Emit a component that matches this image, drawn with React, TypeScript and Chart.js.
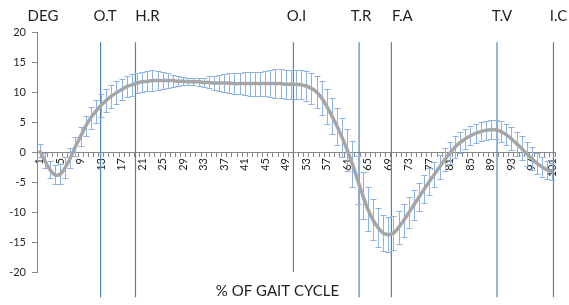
import React, { useEffect, useRef } from "react";
import { Chart, registerables } from "chart.js";

Chart.register(...registerables);

// ---- data ----
const categories: number[] = Array.from({ length: 101 }, (_, i) => i + 1);

const meanAngle: number[] = [
  0.3, -1.4, -2.9, -3.8, -3.7, -2.6, -1.0, 0.9, 2.6, 4.3,
  5.7, 6.8, 7.8, 8.6, 9.3, 9.9, 10.4, 10.9, 11.2, 11.5,
  11.7, 11.8, 11.9, 11.9, 11.9, 11.9, 11.9, 11.8, 11.8, 11.7,
  11.7, 11.7, 11.6, 11.6, 11.5, 11.5, 11.5, 11.5, 11.4, 11.4,
  11.4, 11.4, 11.4, 11.4, 11.4, 11.4, 11.4, 11.4, 11.3, 11.3,
  11.3, 11.2, 11.0, 10.6, 10.0, 9.0, 7.6, 6.0, 4.3, 2.4,
  0.3, -2.0, -4.6, -7.2, -9.5, -11.3, -12.6, -13.5, -13.8, -13.5,
  -12.6, -11.4, -10.1, -8.8, -7.5, -6.2, -4.9, -3.7, -2.5, -1.3,
  -0.2, 0.8, 1.6, 2.2, 2.7, 3.1, 3.4, 3.6, 3.7, 3.7,
  3.4, 2.9, 2.2, 1.4, 0.6, -0.3, -1.1, -1.9, -2.5, -3.0,
  -3.3,
];

const sdAngle: number[] = [
  1.1, 1.2, 1.4, 1.6, 1.7, 1.7, 1.6, 1.6, 1.6, 1.7,
  1.8, 1.9, 1.9, 1.9, 1.9, 1.9, 1.8, 1.8, 1.8, 1.7,
  1.7, 1.7, 1.7, 1.6, 1.4, 1.2, 1.0, 0.8, 0.7, 0.6,
  0.6, 0.7, 0.8, 1.0, 1.2, 1.4, 1.5, 1.6, 1.7, 1.8,
  1.9, 2.0, 2.0, 2.0, 2.1, 2.3, 2.4, 2.4, 2.4, 2.4,
  2.4, 2.4, 2.5, 2.6, 2.7, 2.8, 2.9, 3.0, 3.1, 3.3,
  3.5, 3.8, 4.0, 3.9, 3.7, 3.4, 3.2, 3.0, 2.9, 2.8,
  2.8, 2.7, 2.6, 2.5, 2.4, 2.3, 2.2, 2.1, 2.0, 1.9,
  1.8, 1.8, 1.7, 1.7, 1.6, 1.6, 1.6, 1.6, 1.6, 1.6,
  1.7, 1.8, 1.9, 2.0, 2.0, 2.0, 1.9, 1.8, 1.6, 1.5,
  1.4,
];

const xTickLabels: number[] = [
  1, 5, 9, 13, 17, 21, 25, 29, 33, 37, 41, 45, 49, 53, 57, 61, 65, 69, 73, 77, 81, 85, 89, 93, 97, 101,
];
const yTicks: number[] = [-20, -15, -10, -5, 0, 5, 10, 15, 20];

const eventNames: string[] = ["O.T", "H.R", "O.I", "T.R", "F.A", "T.V", "I.C"];
const eventPct: number[] = [12.9, 19.7, 50.5, 63.3, 69.6, 90.2, 101.2];
const eventTop: number[] = [18.3, 18.3, 18.3, 18.3, 18.3, 18.3, 18.3];
const eventBottom: number[] = [-24.2, -24.2, -20, -24.2, -24.2, -24.2, -24.2];

const yAxisTitle = "DEG";
const xAxisTitle = "% OF GAIT CYCLE";

// ---- styles ----
const FONT = "Lato, 'Open Sans', sans-serif";
const TEXT = "#1f1f1f";
const AXIS = "#878787";
const EVENT_LINE = "#4F81BD";
const ERR = "#8DB3E2";
const MEAN = "#A6A6A6";
const labelNudge = [4.5, 12, 3, 2, 11, 5, 5];

const errorBarPlugin = {
  id: "errorBars",
  beforeDatasetDraw(chart: any, args: any) {
    if (args.index !== 0) return;
    const xs = chart.scales.x;
    const ys = chart.scales.y;
    const ctx = chart.ctx;
    ctx.save();
    ctx.strokeStyle = ERR;
    ctx.lineWidth = 1;
    categories.forEach((c, i) => {
      const px = Math.round(xs.getPixelForValue(c)) + 0.5;
      const top = Math.round(ys.getPixelForValue(meanAngle[i] + sdAngle[i])) + 0.5;
      const bot = Math.round(ys.getPixelForValue(meanAngle[i] - sdAngle[i])) + 0.5;
      ctx.beginPath();
      ctx.moveTo(px, top);
      ctx.lineTo(px, bot);
      ctx.moveTo(px - 3, top);
      ctx.lineTo(px + 3, top);
      ctx.moveTo(px - 3, bot);
      ctx.lineTo(px + 3, bot);
      ctx.stroke();
    });
    ctx.restore();
  },
};

const labelsPlugin = {
  id: "eventLabels",
  afterDraw(chart: any) {
    const xs = chart.scales.x;
    const ctx = chart.ctx;
    const area = chart.chartArea;
    ctx.save();
    ctx.fillStyle = TEXT;
    ctx.font = `15px ${FONT}`;
    ctx.textAlign = "center";
    ctx.textBaseline = "middle";
    const ty = area.top - 16;
    ctx.fillText(yAxisTitle, area.left + 6, ty);
    eventNames.forEach((n, i) => {
      ctx.fillText(n, xs.getPixelForValue(eventPct[i]) + labelNudge[i], ty);
    });
    ctx.restore();
  },
};

export default function App() {
  const ref = useRef<HTMLCanvasElement>(null);

  useEffect(() => {
    if (!ref.current) return;
    const eventSets = eventNames.map((n, i) => ({
      label: n,
      data: [
        { x: eventPct[i], y: eventTop[i] },
        { x: eventPct[i], y: eventBottom[i] },
      ],
      borderColor: EVENT_LINE,
      borderWidth: 1.2,
      pointRadius: 0,
      clip: false as const,
    }));
    const chart = new Chart(ref.current, {
      type: "line",
      data: {
        datasets: [
          {
            label: "Mean",
            data: categories.map((c, i) => ({ x: c, y: meanAngle[i] })),
            borderColor: MEAN,
            borderWidth: 3.5,
            pointRadius: 0,
            tension: 0.4,
            clip: false as const,
          },
          ...eventSets,
        ],
      },
      options: {
        responsive: false,
        animation: false,
        layout: { padding: { top: 32, right: 14, bottom: 0, left: 0 } },
        plugins: {
          legend: { display: false },
          tooltip: { enabled: false },
          title: {
            display: true,
            position: "bottom",
            text: xAxisTitle,
            color: TEXT,
            font: { family: FONT, size: 15, weight: "normal", lineHeight: 1.2 },
            padding: { top: 10, bottom: 5 },
          },
        },
        scales: {
          x: {
            type: "linear",
            min: 0.5,
            max: 101.5,
            position: { y: 0 } as any,
            afterBuildTicks: (s: any) => {
              s.ticks = categories.map((v) => ({ value: v }));
            },
            ticks: {
              autoSkip: false,
              minRotation: 90,
              maxRotation: 90,
              padding: 2,
              color: TEXT,
              font: { family: FONT, size: 11 },
              callback: (v: any) => (xTickLabels.includes(Number(v)) ? String(v) : ""),
            },
            grid: {
              drawOnChartArea: false,
              drawTicks: true,
              tickLength: 4,
              offset: true,
              color: AXIS,
            },
            border: { color: AXIS, width: 1 },
          },
          y: {
            type: "linear",
            min: -20,
            max: 20,
            afterBuildTicks: (s: any) => {
              s.ticks = yTicks.map((v) => ({ value: v }));
            },
            afterFit: (s: any) => {
              s.width = 37;
            },
            ticks: {
              padding: 6,
              color: TEXT,
              font: { family: FONT, size: 11 },
            },
            grid: {
              drawOnChartArea: false,
              drawTicks: true,
              tickLength: 5,
              color: AXIS,
            },
            border: { color: AXIS, width: 1 },
          },
        },
      },
      plugins: [errorBarPlugin, labelsPlugin],
    });
    return () => chart.destroy();
  }, []);

  return (
    <div style={{ position: "fixed", left: 0, top: 0, width: 569, height: 305, background: "#fff" }}>
      <canvas ref={ref} width={569} height={305} style={{ display: "block" }} />
    </div>
  );
}
